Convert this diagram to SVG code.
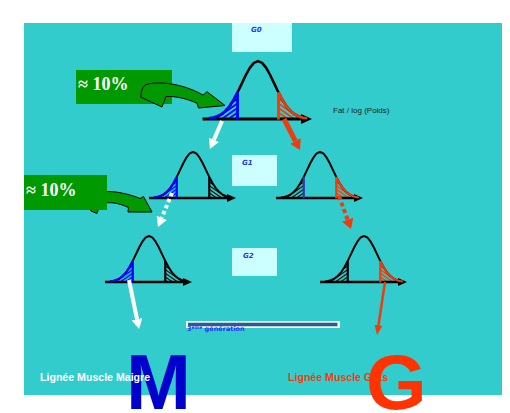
<svg xmlns="http://www.w3.org/2000/svg" width="510" height="413" viewBox="0 0 510 413">
<style>
.axis{stroke:#000;stroke-width:2.4;fill:none;marker-end:url(#ax)}
.bell{stroke:#000;stroke-width:2;fill:none;stroke-linejoin:round}
.tc{fill:none;stroke-width:2;stroke-linejoin:round}
.cut{stroke-width:2.2}
.gbox{fill:#CCFFFF}
.glab{font-family:"DejaVu Sans",sans-serif;font-size:7px;font-weight:bold;font-style:italic;fill:#2233FF}
.pct{font-family:"Liberation Serif","Times New Roman",serif;font-size:18px;font-weight:bold;fill:#fff}
.garrow{fill:#009900;stroke:#000;stroke-width:1;stroke-linejoin:round}
.big{font-family:"Liberation Sans",Arial,sans-serif;font-size:78px;font-weight:bold}
.lab{font-family:"Liberation Sans",Arial,sans-serif;font-weight:bold;font-size:10.6px}
.wline{stroke:#fff;stroke-width:4;fill:none}
.rline{stroke:#F03C0C;fill:none}
</style>
<defs>
<marker id="ax" markerUnits="userSpaceOnUse" markerWidth="9" markerHeight="8" viewBox="0 0 9 8" refX="0" refY="4" orient="auto"><path d="M0,0 L9,4 L0,8 z" fill="#000"/></marker>
<marker id="mw" markerUnits="userSpaceOnUse" markerWidth="10" markerHeight="11" viewBox="0 0 10 11" refX="0" refY="5.5" orient="auto"><path d="M0,0 L10,5.5 L0,11 z" fill="#fff"/></marker>
<marker id="mr" markerUnits="userSpaceOnUse" markerWidth="10" markerHeight="12" viewBox="0 0 10 12" refX="0" refY="6" orient="auto"><path d="M0,0 L10,6 L0,12 z" fill="#F03C0C"/></marker>
<marker id="mrs" markerUnits="userSpaceOnUse" markerWidth="10" markerHeight="8" viewBox="0 0 10 8" refX="0" refY="4" orient="auto"><path d="M0,0 L10,4 L0,8 z" fill="#F03C0C"/></marker>
<pattern id="hB" width="3" height="3" patternUnits="userSpaceOnUse" patternTransform="rotate(-35)"><line x1="0" y1="1.5" x2="3" y2="1.5" stroke="#0000FF" stroke-width="1.4"/></pattern>
<pattern id="hR" width="3" height="3" patternUnits="userSpaceOnUse" patternTransform="rotate(35)"><line x1="0" y1="1.5" x2="3" y2="1.5" stroke="#F03C0C" stroke-width="1.4"/></pattern>
<pattern id="hKL" width="3" height="3" patternUnits="userSpaceOnUse" patternTransform="rotate(-35)"><line x1="0" y1="1.5" x2="3" y2="1.5" stroke="#000" stroke-width="1.1"/></pattern>
<pattern id="hKR" width="3" height="3" patternUnits="userSpaceOnUse" patternTransform="rotate(35)"><line x1="0" y1="1.5" x2="3" y2="1.5" stroke="#000" stroke-width="1.1"/></pattern>
<path id="bell" d="M-39,-0.51 L-35.75,-1.05 L-32.5,-2.02 L-29.25,-3.66 L-26,-6.23 L-22.75,-9.95 L-19.5,-14.94 L-16.25,-21.06 L-13,-27.9 L-9.75,-34.72 L-6.5,-40.6 L-3.25,-44.58 L0,-46 L3.25,-44.58 L6.5,-40.6 L9.75,-34.72 L13,-27.9 L16.25,-21.06 L19.5,-14.94 L22.75,-9.95 L26,-6.23 L29.25,-3.66 L32.5,-2.02 L35.75,-1.05 L39,-0.51"/>
<path id="tailL" d="M-39,0 L-39,-0.51 L-35.75,-1.05 L-32.5,-2.02 L-29.25,-3.66 L-26,-6.23 L-22.75,-9.95 L-19.5,-14.94 L-16.25,-21.06 L-16.25,0 Z"/>
<path id="tailR" d="M39,0 L39,-0.51 L35.75,-1.05 L32.5,-2.02 L29.25,-3.66 L26,-6.23 L22.75,-9.95 L19.5,-14.94 L16.25,-21.06 L16.25,0 Z"/>
<path id="tcL" d="M-39,-0.51 L-35.75,-1.05 L-32.5,-2.02 L-29.25,-3.66 L-26,-6.23 L-22.75,-9.95 L-19.5,-14.94 L-16.25,-21.06"/>
<path id="tcR" d="M39,-0.51 L35.75,-1.05 L32.5,-2.02 L29.25,-3.66 L26,-6.23 L22.75,-9.95 L19.5,-14.94 L16.25,-21.06"/>
</defs>

<rect x="24" y="23" width="478" height="372" fill="#33CCCC"/>

<g id="g0-label"><rect class="gbox" x="232" y="23" width="60" height="29"/><text class="glab" x="251" y="32">G0</text></g>
<g id="g1-label"><rect class="gbox" x="232" y="155" width="45" height="31"/><text class="glab" x="242" y="165">G1</text></g>
<g id="g2-label"><rect class="gbox" x="232" y="248" width="45" height="28"/><text class="glab" x="243" y="258">G2</text></g>

<g id="g0-curve" transform="translate(258,119) scale(1.26)">
<use href="#tailL" fill="url(#hB)"/>
<use href="#tailR" fill="url(#hR)"/>
<line class="axis" x1="-44" y1="0" x2="34" y2="0"/>
<use href="#bell" class="bell"/>
<use href="#tcL" class="tc" stroke="#0000FF"/>
<use href="#tcR" class="tc" stroke="#F03C0C"/>
<line class="cut" x1="-16.25" y1="-21.06" x2="-16.25" y2="0.5" stroke="#0000FF"/>
<line class="cut" x1="16.25" y1="-21.06" x2="16.25" y2="0.5" stroke="#F03C0C"/>
</g>
<text id="axis-label" x="333" y="113" font-family="Liberation Sans, Arial, sans-serif" font-size="8" fill="#222">Fat / log (Poids)</text>

<g id="g1-left" transform="translate(193,198)">
<use href="#tailL" fill="url(#hB)"/>
<use href="#tailR" fill="url(#hKR)"/>
<line class="axis" x1="-44" y1="0" x2="34" y2="0"/>
<use href="#bell" class="bell"/>
<use href="#tcL" class="tc" stroke="#0000FF"/>
<line class="cut" x1="-16.25" y1="-21.06" x2="-16.25" y2="0.5" stroke="#0000FF"/>
<line class="cut" x1="16.25" y1="-21.06" x2="16.25" y2="0.5" stroke="#000"/>
</g>
<g id="g1-right" transform="translate(320,198)">
<use href="#tailL" fill="url(#hKL)"/>
<use href="#tailR" fill="url(#hR)"/>
<line class="axis" x1="-44" y1="0" x2="34" y2="0"/>
<use href="#bell" class="bell"/>
<use href="#tcR" class="tc" stroke="#F03C0C"/>
<line class="cut" x1="-16.25" y1="-21.06" x2="-16.25" y2="0.5" stroke="#3333AA"/>
<line class="cut" x1="16.25" y1="-21.06" x2="16.25" y2="0.5" stroke="#F03C0C"/>
</g>
<g id="g2-left" transform="translate(149,282)">
<use href="#tailL" fill="url(#hB)"/>
<use href="#tailR" fill="url(#hKR)"/>
<line class="axis" x1="-44" y1="0" x2="34" y2="0"/>
<use href="#bell" class="bell"/>
<use href="#tcL" class="tc" stroke="#0000FF"/>
<line class="cut" x1="-16.25" y1="-21.06" x2="-16.25" y2="0.5" stroke="#0000FF"/>
<line class="cut" x1="16.25" y1="-21.06" x2="16.25" y2="0.5" stroke="#000"/>
</g>
<g id="g2-right" transform="translate(364,282)">
<use href="#tailL" fill="url(#hKL)"/>
<use href="#tailR" fill="url(#hR)"/>
<line class="axis" x1="-44" y1="0" x2="34" y2="0"/>
<use href="#bell" class="bell"/>
<use href="#tcR" class="tc" stroke="#F03C0C"/>
<line class="cut" x1="-16.25" y1="-21.06" x2="-16.25" y2="0.5" stroke="#000"/>
<line class="cut" x1="16.25" y1="-21.06" x2="16.25" y2="0.5" stroke="#F03C0C"/>
</g>

<g id="pct-1">
<rect x="76" y="70" width="96" height="34" fill="#009900"/>
<text class="pct" x="78" y="90">≈ 10%</text>
</g>
<g id="pct-2">
<path class="garrow" d="M88,204 C95,195 103,191 110,191.5 C120,192 132,195 140,198.5 L143.5,196.5 L152,212 L128,212 L128.5,207.5 C120,203.5 110,201 100,204 L97,213.5 L91,211 Z"/>
<rect x="24" y="175" width="83" height="35" fill="#009900"/>
<text class="pct" x="26" y="196">≈ 10%</text>
</g>

<g id="connectors">
<path class="garrow" d="M145,85 C155,81 180,82 203,95 L207,91.7 L225,105.5 L198.5,108 L197,103.3 C188,99 176,96 166,96.5 L162,107 L140.7,97 C141,92 142,88 145,85 Z"/>
<line class="wline" x1="222" y1="121" x2="213.9" y2="139.8" marker-end="url(#mw)"/>
<line class="rline" stroke-width="5" x1="284" y1="119" x2="295.4" y2="141.1" marker-end="url(#mr)"/>
<line class="wline" stroke-dasharray="3.5 3" x1="172" y1="193" x2="161.8" y2="217.8" marker-end="url(#mw)"/>
<line class="rline" stroke-width="4" stroke-dasharray="4 3" x1="339" y1="196" x2="347.6" y2="219.6" marker-end="url(#mr)"/>
<line class="wline" x1="129" y1="280" x2="137" y2="319.2" marker-end="url(#mw)"/>
<line class="rline" stroke-width="2.5" x1="385" y1="282" x2="378.5" y2="325.1" marker-end="url(#mrs)"/>
</g>

<g id="generation">
<rect x="186" y="321" width="154" height="7" fill="#fff"/>
<rect x="188" y="322.7" width="149.5" height="3.6" fill="#2F5A8F"/>
<text x="187" y="331" font-family="DejaVu Sans, sans-serif" font-weight="bold" font-size="6.5" fill="#2233FF">3<tspan font-size="4.5" dy="-2.5">ème</tspan><tspan dy="2.5"> génération</tspan></text>
</g>

<g id="line-maigre">
<text class="big" x="126" y="409" fill="#0000CC">M</text>
<text class="lab" x="40" y="381" fill="#fff">Lignée Muscle Maigre</text>
</g>
<g id="line-gras">
<text class="lab" x="288" y="381" fill="#F03C0C">Lignée Muscle Gras</text>
<text class="big" x="366" y="409" fill="#FF3300">G</text>
</g>
</svg>
